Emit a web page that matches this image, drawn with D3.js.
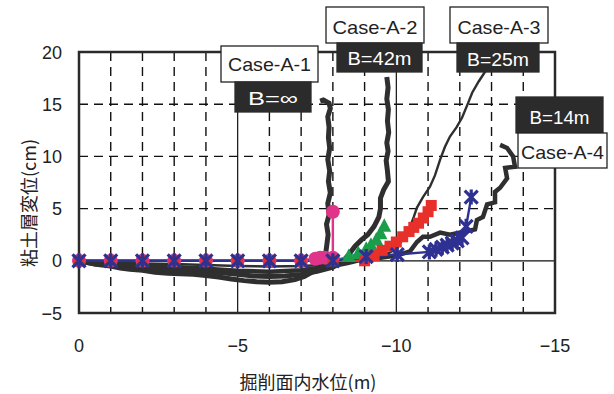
<!DOCTYPE html>
<html>
<head>
<meta charset="utf-8">
<script src="https://cdn.jsdelivr.net/npm/d3@7"></script>
<style>
  body { margin: 0; background: #fff; }
  text { font-family: "Liberation Sans", Arial, sans-serif; fill: #222; }
  .jp { font-family: "Noto Sans CJK JP", sans-serif; }
</style>
</head>
<body>
<svg id="chart" width="614" height="394"></svg>
<script>
// axis ticks
const xTicks = [0, -5, -10, -15];
const yTicks = [-5, 0, 5, 10, 15, 20];
const xGrid = d3.range(0, -16, -1);
const xTitle = "掘削面内水位(m)";
const yTitle = "粘土層変位(cm)";

// measured settlement curves (dark, noisy)
const measA1 = [[0,0],[-0.3,-0.2],[-0.6,-0.35],[-1,-0.5],[-1.3,-0.7],[-1.6,-0.8],[-2,-0.9],[-2.4,-1.1],[-2.8,-1.2],[-3.2,-1.25],[-3.6,-1.3],[-4,-1.4],[-4.4,-1.55],[-4.8,-1.75],[-5.2,-1.9],[-5.6,-2.0],[-6,-2.05],[-6.4,-2.0],[-6.8,-1.8],[-7.1,-1.5],[-7.4,-1.0],[-7.6,-0.5],[-7.75,0.2],[-7.8,1.3],[-7.85,2.5],[-7.8,3.5],[-7.88,4.4],[-7.84,5.5],[-7.92,6.5],[-7.86,7.6],[-7.9,8.6],[-7.84,9.7],[-7.9,10.8],[-7.86,11.8],[-7.88,12.8],[-7.84,13.8],[-7.92,14.6],[-7.88,15.1],[-7.7,15.4],[-7.6,15.3]];
const measA2 = [[0,0],[-0.5,-0.3],[-1,-0.4],[-1.5,-0.5],[-2,-0.6],[-2.5,-0.75],[-3,-0.85],[-3.5,-0.95],[-4,-1.05],[-4.5,-1.15],[-5,-1.3],[-5.5,-1.45],[-6,-1.5],[-6.5,-1.45],[-7,-1.3],[-7.5,-1.0],[-8,-0.6],[-8.3,-0.1],[-8.5,0.6],[-8.7,1.4],[-8.9,2.0],[-9.1,2.5],[-9.3,3.3],[-9.45,4.2],[-9.5,5.0],[-9.5,6.0],[-9.6,6.8],[-9.75,7.6],[-9.72,8.6],[-9.68,9.6],[-9.74,10.5],[-9.7,11.3],[-9.76,12.3],[-9.72,13.4],[-9.75,14.5],[-9.7,15.5],[-9.74,16.6],[-9.7,17.6]];
const measA3 = [[0,0],[-1,-0.15],[-2,-0.25],[-3,-0.3],[-4,-0.4],[-5,-0.5],[-6,-0.55],[-7,-0.5],[-8,-0.35],[-8.5,-0.2],[-9,0.1],[-9.5,0.4],[-9.8,0.8],[-10.0,1.2],[-10.2,2.0],[-10.4,3.0],[-10.55,4.2],[-10.65,5.1],[-10.84,6.1],[-11.06,7.1],[-11.22,8.2],[-11.38,9.7],[-11.53,10.9],[-11.69,11.9],[-11.9,12.8],[-12.07,13.7],[-12.26,15.1],[-12.39,16.1],[-12.6,17.2],[-12.73,17.8],[-12.9,18.6]];
const measA4 = [[0,0],[-1,-0.3],[-2,-0.45],[-3,-0.6],[-4,-0.75],[-5,-0.95],[-6,-1.05],[-7,-0.9],[-8,-0.5],[-8.5,-0.2],[-9,0.2],[-9.5,0.3],[-10,0.5],[-10.43,0.9],[-10.65,1.8],[-10.84,2.3],[-11.06,2.3],[-11.38,2.7],[-11.69,2.5],[-12.17,2.8],[-12.48,3.0],[-12.54,3.9],[-12.73,4.2],[-12.86,5.4],[-13.11,5.6],[-13.11,6.6],[-13.27,7.0],[-13.49,7.9],[-13.43,8.9],[-13.74,9.0],[-13.68,10.0],[-13.49,10.8],[-13.27,11.1]];

// simulated curves (markers)
const simA1 = [[0,0],[-1,0],[-2,0],[-3,0],[-4,0],[-5,0],[-6,0],[-7,0],[-7.45,0.2],[-7.6,0.3],[-7.75,0.3],[-8.0,0.3],[-8.0,4.7]];
const simA2 = [[0,0],[-1,0],[-2,0],[-3,0],[-4,0],[-5,0],[-6,0],[-7,0],[-8,0],[-8.5,0.4],[-8.8,0.7],[-9.05,1.1],[-9.2,1.5],[-9.37,2.0],[-9.5,2.6],[-9.62,3.3]];
const simA3 = [[0,0],[-1,0],[-2,0],[-3,0],[-4,0],[-5,0],[-6,0],[-7,0],[-8,0],[-9,0],[-9.3,0.5],[-9.55,1.0],[-9.8,1.4],[-10.0,1.8],[-10.2,2.3],[-10.4,2.8],[-10.55,3.2],[-10.7,3.6],[-10.85,4.1],[-11.0,4.7],[-11.1,5.3]];
const simA4 = [[0,0],[-1,0],[-2,0],[-3,0],[-4,0],[-5,0],[-6,0],[-7,0],[-8,0],[-9.05,0.4],[-10.03,0.6],[-11.04,0.85],[-11.25,1.1],[-11.45,1.3],[-11.6,1.5],[-11.76,1.7],[-11.92,1.9],[-12.07,2.2],[-12.2,3.3],[-12.36,6.1]];

const caseNames = ["Case-A-1", "Case-A-2", "Case-A-3", "Case-A-4"];
const widthNames = ["B=∞", "B=42m", "B=25m", "B=14m"];

const svg = d3.select('#chart');
const L = 79, R = 555, T = 52, B = 313;
const x = d3.scaleLinear().domain([0, -15]).range([L, R]);
const y = d3.scaleLinear().domain([-5, 20]).range([B, T]);

// grid
const g = svg.append('g');
g.selectAll('.vg').data(xGrid.filter(d => d !== 0 && d !== -15)).enter().append('line')
    .attr('x1', d => x(d)).attr('x2', d => x(d)).attr('y1', T).attr('y2', B)
    .attr('stroke', '#111')
    .attr('stroke-width', d => (d % 5 === 0) ? 1.2 : 1.4)
    .attr('stroke-dasharray', d => (d % 5 === 0) ? null : '9,6');
g.selectAll('.hg').data(yTicks.filter(d => d !== -5 && d !== 20)).enter().append('line')
    .attr('x1', L).attr('x2', R).attr('y1', d => y(d)).attr('y2', d => y(d))
    .attr('stroke', '#111')
    .attr('stroke-width', d => d === 0 ? 1.2 : 1.4)
    .attr('stroke-dasharray', d => d === 0 ? null : '9,6');

// frame
svg.append('rect').attr('x', L).attr('y', T).attr('width', R - L).attr('height', B - T)
    .attr('fill', 'none').attr('stroke', '#2a2a2a').attr('stroke-width', 2.5);

// tick labels
svg.selectAll('.yl').data(yTicks).enter().append('text')
    .attr('x', 62).attr('y', d => y(d) + 6.5)
    .attr('text-anchor', 'end').attr('font-size', 18)
    .text(d => d < 0 ? '−' + Math.abs(d) : d);
svg.selectAll('.xl').data(xTicks).enter().append('text')
    .attr('x', d => x(d)).attr('y', 352)
    .attr('text-anchor', 'middle').attr('font-size', 18)
    .text(d => d < 0 ? '−' + Math.abs(d) : d);

// axis titles
svg.append('text').attr('class', 'jp')
    .attr('x', 308).attr('y', 381).attr('text-anchor', 'middle')
    .attr('dominant-baseline', 'central').attr('font-size', 18).text(xTitle);
svg.append('text').attr('class', 'jp')
    .attr('transform', 'translate(28,203) rotate(-90)').attr('text-anchor', 'middle')
    .attr('dominant-baseline', 'central').attr('font-size', 18).text(yTitle);

const line = d3.line().x(d => x(d[0])).y(d => y(d[1]));

// measured curves
[[measA1, 5], [measA2, 5], [measA4, 4.5], [measA3, 2.4]].forEach(([data, w]) => {
    svg.append('path').datum(data).attr('d', line)
        .attr('fill', 'none').attr('stroke', '#2f2f2f').attr('stroke-width', w)
        .attr('stroke-linejoin', 'miter');
});

// simulated series lines
const pink = '#e0348a', green = '#1b9e4b', red = '#e8302a', navy = '#2e3192';
[[simA1, pink], [simA2, '#17a38f'], [simA3, red], [simA4, navy]].forEach(([data, c]) => {
    svg.append('path').datum(data).attr('d', line)
        .attr('fill', 'none').attr('stroke', c).attr('stroke-width', 2.4);
});

// markers
svg.selectAll('.m1').data(simA1).enter().append('circle')
    .attr('cx', d => x(d[0])).attr('cy', d => y(d[1])).attr('r', 7).attr('fill', pink);
svg.selectAll('.m2').data(simA2).enter().append('path')
    .attr('transform', d => `translate(${x(d[0])},${y(d[1])})`)
    .attr('d', 'M0,-8L7,5.5L-7,5.5Z').attr('fill', green);
svg.selectAll('.m3').data(simA3).enter().append('rect')
    .attr('x', d => x(d[0]) - 5.5).attr('y', d => y(d[1]) - 5.5)
    .attr('width', 11).attr('height', 11).attr('fill', red);
svg.selectAll('.m4').data(simA4).enter().append('path')
    .attr('transform', d => `translate(${x(d[0])},${y(d[1])})`)
    .attr('d', 'M0,-7.5V7.5M-6.5,-6.5L6.5,6.5M-6.5,6.5L6.5,-6.5')
    .attr('stroke', navy).attr('stroke-width', 3.2).attr('fill', 'none');

// annotation boxes
function box(x0, y0, x1, y1, label, dark, baseline, tl) {
    svg.append('rect').attr('x', x0).attr('y', y0).attr('width', x1 - x0).attr('height', y1 - y0)
        .attr('fill', dark ? '#2b2b2b' : '#fff')
        .attr('stroke', dark ? '#2b2b2b' : '#222').attr('stroke-width', 1.3);
    svg.append('text').attr('x', (x0 + x1) / 2).attr('y', baseline)
        .attr('text-anchor', 'middle').attr('font-size', 19)
        .attr('textLength', tl).attr('lengthAdjust', 'spacingAndGlyphs')
        .style('fill', dark ? '#fff' : '#222').text(label);
}
box(221, 46, 318, 82, caseNames[0], false, 71, 83);
box(235, 82, 311, 112, widthNames[0], true, 105, 50);
box(326, 7, 424, 43, caseNames[1], false, 34, 85);
box(337, 43, 422, 72, widthNames[1], true, 65, 64);
box(450, 7, 548, 43, caseNames[2], false, 34, 83);
box(457, 43, 539, 72, widthNames[2], true, 66, 62);
box(516, 97, 603, 133, widthNames[3], true, 124, 60);
box(518, 133, 607, 168, caseNames[3], false, 159, 83);
</script>
</body>
</html>
